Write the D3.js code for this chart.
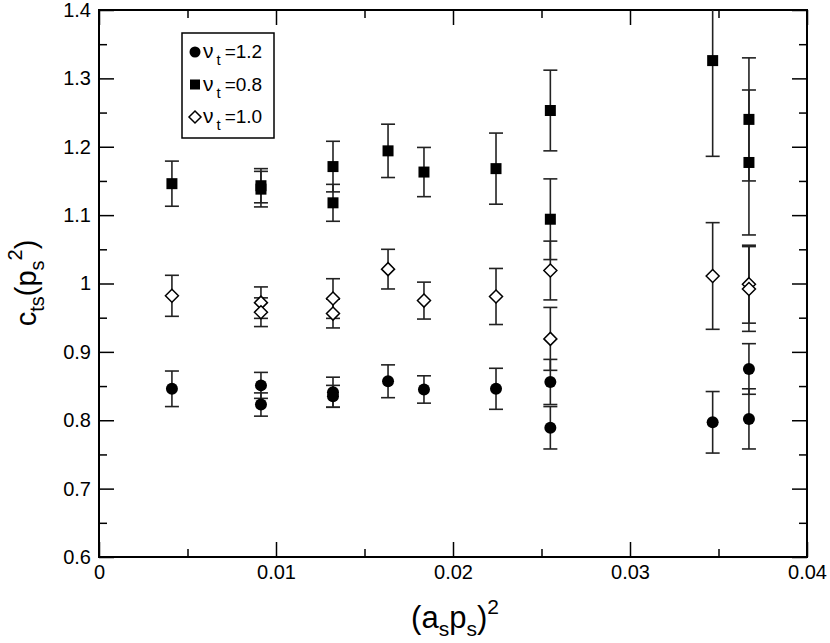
<!DOCTYPE html>
<html>
<head>
<meta charset="utf-8">
<script src="https://cdn.jsdelivr.net/npm/d3@7"></script>
<style>
  body { margin: 0; background: #fff; }
  text { font-family: "Liberation Sans", Arial, sans-serif; fill: #000; }
</style>
</head>
<body>
<div id="chart"></div>
<script>
// x values (a_s p_s)^2, shared by all three series
var xVals = [0.00412, 0.00915, 0.00915, 0.01322, 0.01322, 0.01633, 0.01836, 0.02243, 0.0255, 0.0255, 0.03467, 0.03672, 0.03672];

// nu_t = 1.2 (filled circles)
var yNu12 = [0.846, 0.851, 0.823, 0.841, 0.835, 0.857, 0.845, 0.846, 0.856, 0.789, 0.797, 0.875, 0.802];
var eNu12 = [0.026, 0.019, 0.017, 0.022, 0.016, 0.024, 0.020, 0.030, 0.033, 0.031, 0.045, 0.037, 0.044];

// nu_t = 0.8 (filled squares)
var yNu08 = [1.146, 1.143, 1.138, 1.171, 1.118, 1.194, 1.163, 1.168, 1.253, 1.094, 1.326, 1.240, 1.177];
var eNu08 = [0.033, 0.025, 0.026, 0.037, 0.027, 0.039, 0.036, 0.052, 0.059, 0.059, 0.140, 0.090, 0.106];

// nu_t = 1.0 (open diamonds)
var yNu10 = [0.982, 0.972, 0.958, 0.978, 0.956, 1.021, 0.975, 0.981, 1.019, 0.919, 1.011, 0.999, 0.992];
var eNu10 = [0.030, 0.023, 0.021, 0.029, 0.021, 0.029, 0.027, 0.041, 0.043, 0.046, 0.078, 0.057, 0.062];

var legendLabels = ["1.2", "0.8", "1.0"];
var xTicks = [0, 0.01, 0.02, 0.03, 0.04];
var yTicks = [0.6, 0.7, 0.8, 0.9, 1.0, 1.1, 1.2, 1.3, 1.4];

var W = 830, H = 643;
var margin = {top: 10, right: 23, bottom: 86, left: 99};

var x = d3.scaleLinear().domain([0, 0.04]).range([margin.left, W - margin.right]);
var y = d3.scaleLinear().domain([0.6, 1.4]).range([H - margin.bottom, margin.top]);

var svg = d3.select("#chart").append("svg")
	.attr("width", W)
	.attr("height", H);

svg.append("defs").append("clipPath").attr("id", "plotclip")
	.append("rect")
	.attr("x", x(0)).attr("y", y(1.4))
	.attr("width", x(0.04) - x(0)).attr("height", y(0.6) - y(1.4));

function fmt(d) { return String(+d.toFixed(2)); }

var xMinor = d3.range(0.005, 0.04, 0.01);
var yMinor = d3.range(0.65, 1.4, 0.1);

function styleAxis(g) {
	g.select(".domain").remove();
	g.selectAll(".tick line").attr("stroke", "#000").attr("stroke-width", 1.5);
	g.selectAll(".tick text").style("font-size", "20px").style("font-family", "Liberation Sans, Arial, sans-serif");
}

// bottom
svg.append("g").attr("transform", "translate(0," + y(0.6) + ")")
	.call(d3.axisBottom(x).tickValues(xTicks).tickFormat(fmt).tickSizeInner(-15).tickSizeOuter(0).tickPadding(8))
	.call(styleAxis);
svg.append("g").attr("transform", "translate(0," + y(0.6) + ")")
	.call(d3.axisBottom(x).tickValues(xMinor).tickFormat("").tickSizeInner(-8).tickSizeOuter(0))
	.call(styleAxis);
// top
svg.append("g").attr("transform", "translate(0," + y(1.4) + ")")
	.call(d3.axisTop(x).tickValues(xTicks).tickFormat("").tickSizeInner(-15).tickSizeOuter(0))
	.call(styleAxis);
svg.append("g").attr("transform", "translate(0," + y(1.4) + ")")
	.call(d3.axisTop(x).tickValues(xMinor).tickFormat("").tickSizeInner(-8).tickSizeOuter(0))
	.call(styleAxis);
// left
svg.append("g").attr("transform", "translate(" + x(0) + ",0)")
	.call(d3.axisLeft(y).tickValues(yTicks).tickFormat(fmt).tickSizeInner(-15).tickSizeOuter(0).tickPadding(8))
	.call(styleAxis);
svg.append("g").attr("transform", "translate(" + x(0) + ",0)")
	.call(d3.axisLeft(y).tickValues(yMinor).tickFormat("").tickSizeInner(-8).tickSizeOuter(0))
	.call(styleAxis);
// right
svg.append("g").attr("transform", "translate(" + x(0.04) + ",0)")
	.call(d3.axisRight(y).tickValues(yTicks).tickFormat("").tickSizeInner(-15).tickSizeOuter(0))
	.call(styleAxis);
svg.append("g").attr("transform", "translate(" + x(0.04) + ",0)")
	.call(d3.axisRight(y).tickValues(yMinor).tickFormat("").tickSizeInner(-8).tickSizeOuter(0))
	.call(styleAxis);

// frame
svg.append("rect")
	.attr("x", x(0)).attr("y", y(1.4))
	.attr("width", x(0.04) - x(0)).attr("height", y(0.6) - y(1.4))
	.attr("fill", "none").attr("stroke", "#000").attr("stroke-width", 2);

var series = [
	{ys: yNu12, es: eNu12, shape: "circle"},
	{ys: yNu08, es: eNu08, shape: "square"},
	{ys: yNu10, es: eNu10, shape: "diamond"}
];

var plot = svg.append("g").attr("clip-path", "url(#plotclip)");
var cap = 7;

function drawMarker(g, shape, cx, cy) {
	if (shape === "circle") {
		g.append("circle").attr("cx", cx).attr("cy", cy).attr("r", 6).attr("fill", "#000");
	} else if (shape === "square") {
		g.append("rect").attr("x", cx - 5.5).attr("y", cy - 5.5).attr("width", 11).attr("height", 11).attr("fill", "#000");
	} else {
		var s = 6.5;
		g.append("path")
			.attr("d", "M" + cx + "," + (cy - s) + "L" + (cx + s) + "," + cy + "L" + cx + "," + (cy + s) + "L" + (cx - s) + "," + cy + "Z")
			.attr("fill", "#fff").attr("stroke", "#000").attr("stroke-width", 1.5);
	}
}

series.forEach(function (s) {
	var pts = xVals.map(function (xv, i) { return {x: xv, y: s.ys[i], e: s.es[i]}; });
	var eb = plot.append("g").attr("stroke", "#222").attr("stroke-width", 1.6);
	pts.forEach(function (p) {
		var px = x(p.x), top = y(p.y + p.e), bot = y(p.y - p.e);
		eb.append("line").attr("x1", px).attr("x2", px).attr("y1", top).attr("y2", bot);
		eb.append("line").attr("x1", px - cap).attr("x2", px + cap).attr("y1", top).attr("y2", top);
		eb.append("line").attr("x1", px - cap).attr("x2", px + cap).attr("y1", bot).attr("y2", bot);
	});
	var mk = plot.append("g");
	pts.forEach(function (p) { drawMarker(mk, s.shape, x(p.x), y(p.y)); });
});

// legend
var lg = svg.append("g");
lg.append("rect").attr("x", 182).attr("y", 33).attr("width", 92).attr("height", 105)
	.attr("fill", "#fff").attr("stroke", "#000").attr("stroke-width", 1.5);
series.forEach(function (s, i) {
	var cy = 52 + i * 32.5;
	var m = lg.append("g");
	if (s.shape === "circle") {
		m.append("circle").attr("cx", 195).attr("cy", cy).attr("r", 5.5).attr("fill", "#000");
	} else if (s.shape === "square") {
		m.append("rect").attr("x", 190).attr("y", cy - 5).attr("width", 10).attr("height", 10).attr("fill", "#000");
	} else {
		m.append("path").attr("d", "M195," + (cy - 6) + "L201," + cy + "L195," + (cy + 6) + "L189," + cy + "Z")
			.attr("fill", "#fff").attr("stroke", "#000").attr("stroke-width", 1.5);
	}
	var t = lg.append("text").attr("x", 203).attr("y", cy + 6).style("font-size", "19px");
	t.append("tspan").style("font-size", "21px").text("ν");
	t.append("tspan").attr("dy", 7).attr("dx", 3).style("font-size", "15px").text("t");
	t.append("tspan").attr("dy", -7).attr("dx", 4).text("=" + legendLabels[i]);
});

// x axis title
var xt = svg.append("text").attr("x", 455).attr("y", 628).attr("text-anchor", "middle").style("font-size", "31px");
xt.append("tspan").text("(a");
xt.append("tspan").attr("dy", 8).style("font-size", "21px").text("s");
xt.append("tspan").attr("dy", -8).text("p");
xt.append("tspan").attr("dy", 8).style("font-size", "21px").text("s");
xt.append("tspan").attr("dy", -8).text(")");
xt.append("tspan").attr("dy", -14).style("font-size", "21px").text("2");

// y axis title
var yt = svg.append("text").attr("transform", "translate(36,283) rotate(-90)")
	.attr("text-anchor", "middle").style("font-size", "29px");
yt.append("tspan").text("c");
yt.append("tspan").attr("dy", 8).style("font-size", "20px").text("ts");
yt.append("tspan").attr("dy", -8).text("(p");
yt.append("tspan").attr("dy", 8).style("font-size", "20px").text("s");
yt.append("tspan").attr("dy", -22).style("font-size", "20px").text("2");
yt.append("tspan").attr("dy", 14).text(")");
</script>
</body>
</html>
